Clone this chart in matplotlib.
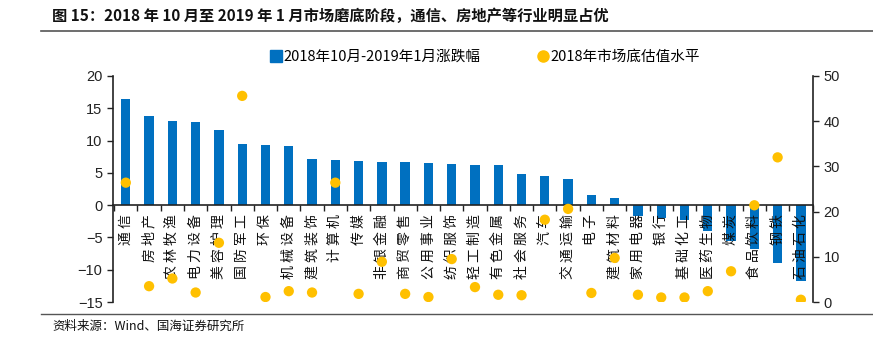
import numpy as np
import matplotlib
matplotlib.use('Agg')
import matplotlib.pyplot as plt
from matplotlib.lines import Line2D

plt.rcParams['font.family'] = ['Noto Sans CJK SC', 'DejaVu Sans']
plt.rcParams['axes.unicode_minus'] = True

industries = ['通信', '房地产', '农林牧渔', '电力设备', '美容护理', '国防军工', '环保',
              '机械设备', '建筑装饰', '计算机', '传媒', '非银金融', '商贸零售', '公用事业',
              '纺织服饰', '轻工制造', '有色金属', '社会服务', '汽车', '交通运输', '电子',
              '建筑材料', '家用电器', '银行', '基础化工', '医药生物', '煤炭', '食品饮料',
              '钢铁', '石油石化']
change = [16.4, 13.8, 13.05, 12.85, 11.6, 9.45, 9.35, 9.2, 7.07, 6.97, 6.8, 6.7, 6.7, 6.45,
          6.35, 6.25, 6.25, 4.8, 4.45, 4.1, 1.56, 1.1, -1.7, -2.0, -2.35, -4.0, -5.5, -6.8,
          -9.0, -11.8]
valuation = [26.4, 3.5, 5.2, 2.1, 13.1, 45.6, 1.1, 2.4, 2.1, 26.4, 1.8, 8.9, 1.8, 1.1,
             9.5, 3.3, 1.6, 1.5, 18.2, 20.6, 2.0, 9.75, 1.6, 1.0, 1.0, 2.4, 6.8, 21.4,
             32.0, 0.5]

bar_color = '#0070C0'
dot_color = '#FFC000'

fig = plt.figure(figsize=(8.73, 3.59), dpi=100)
ax = fig.add_axes([113/873, 1-302/359, (813-113)/873, (302-76)/359])
ax2 = ax.twinx()

x = np.arange(len(industries))
ax.bar(x, change, width=0.4, color=bar_color, zorder=2)
ax2.scatter(x, valuation, s=55, color=dot_color, zorder=3, edgecolors='none')

ax.set_xlim(-0.55, len(industries) - 0.48)
ax.set_ylim(-15, 20)
ax.set_yticks(range(-15, 21, 5))
ax2.set_ylim(0, 50)
ax2.set_yticks(range(0, 51, 10))

for a in (ax, ax2):
    a.spines['top'].set_visible(False)
    a.tick_params(axis='y', labelsize=10.5, length=4, width=1, direction='out', colors='#222222')
    for lab in a.get_yticklabels():
        lab.set_fontfamily(['Liberation Sans', 'DejaVu Sans'])
ax.spines['right'].set_visible(False)
ax2.spines['left'].set_visible(False)
ax2.spines['bottom'].set_visible(False)
ax.spines['left'].set_color('#222222')
ax2.spines['right'].set_color('#222222')
ax.spines['left'].set_linewidth(1.2)
ax2.spines['right'].set_linewidth(1.2)
ax.spines['bottom'].set_position(('data', 0))
ax.spines['bottom'].set_color('#222222')
ax.spines['bottom'].set_linewidth(1.2)

# category boundaries as tick marks, labels placed as rotated text below zero line
ax.set_xticks(np.arange(len(industries) + 1) - 0.5)
ax.set_xticklabels([])
ax.tick_params(axis='x', length=4, width=1, direction='out', colors='#222222')
for i, name in enumerate(industries):
    ax.text(i, -1.45, ' '.join(name), ha='center', va='top', rotation=90, fontsize=10,
            color='#111111', zorder=3)

# legend
handles = [Line2D([], [], marker='s', linestyle='none', color=bar_color, markersize=8),
           Line2D([], [], marker='o', linestyle='none', color=dot_color, markersize=8)]
fig.legend(handles, ['2018年10月-2019年1月涨跌幅', '2018年市场底估值水平'],
           loc='center', bbox_to_anchor=(484/873, 1-57/359), ncol=2, frameon=False,
           fontsize=10.5, handletextpad=0.0, columnspacing=3.8, handlelength=1.0)

# title and source
fig.text(52/873, 1-16/359, '图 15：2018 年 10 月至 2019 年 1 月市场磨底阶段，通信、房地产等行业明显占优',
         ha='left', va='center', fontsize=11.0, fontweight='bold', color='#111111')
fig.add_artist(Line2D([41/873, 1.0], [1-31/359, 1-31/359], color='#555555', linewidth=1.2))
fig.add_artist(Line2D([41/873, 1.0], [1-314/359, 1-314/359], color='#555555', linewidth=1.0))
fig.text(52/873, 1-326/359, '资料来源：Wind、国海证券研究所', ha='left', va='center',
         fontsize=9, color='#111111')

fig.savefig('out.png', dpi=100)
